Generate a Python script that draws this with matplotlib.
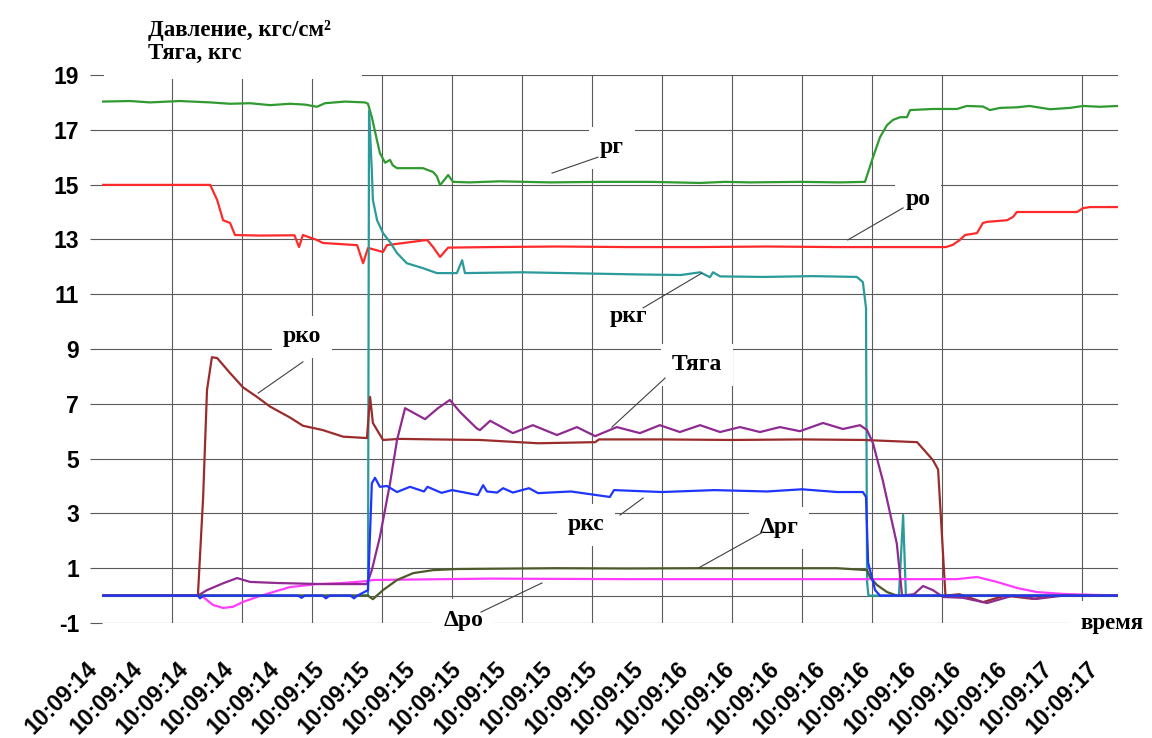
import matplotlib.pyplot as plt
import numpy as np
from matplotlib.transforms import ScaledTranslation
from matplotlib.patches import Rectangle

plt.rcParams["axes.unicode_minus"] = False

# x axis is the sample number (about 100 samples per second)
time_labels = ["10:09:14"] * 5 + ["10:09:15"] * 8 + ["10:09:16"] * 8 + ["10:09:17"] * 2
label_step = 13
grid_step = 20
x_max = 290.3

# p_г (fuel pressure)
pg_t = [0, 8, 13.7, 22.3, 30.9, 36.6, 42.3, 48, 53.7, 58, 61.4, 63.7, 69.4, 75.1, 76,
        77.1, 78.6, 79.4, 80.9, 82.3, 83.1, 84.3, 88, 91.7, 94.6, 95.7, 96.6, 98, 98.9, 100.3,
        105, 113.7, 128, 142.3, 156.6, 170.9, 178, 185, 199.4, 210.9, 218,
        220.3, 222.3, 224.3, 226, 228, 230, 230.9, 237.4, 244.3, 247.1, 251.7, 253.7, 256.6,
        261.4, 265, 270.9, 276.6, 280.3, 285.1, 290.3]
pg_v = [18.03, 18.05, 18.0, 18.05, 18.0, 17.95, 17.97, 17.9, 17.95, 17.92, 17.84, 17.97, 18.03, 18.0, 17.95,
        17.46, 16.6, 16.15, 15.8, 15.9, 15.7, 15.6, 15.6, 15.6, 15.46, 15.3, 14.98, 15.2, 15.35, 15.1,
        15.08, 15.12, 15.08, 15.1, 15.1, 15.06, 15.1, 15.08, 15.1, 15.08, 15.1,
        16.0, 16.73, 17.17, 17.36, 17.46, 17.46, 17.72, 17.76, 17.76, 17.87, 17.85, 17.72, 17.8,
        17.82, 17.87, 17.75, 17.8, 17.87, 17.84, 17.87]

# p_о (oxidizer pressure)
po_t = [0, 30.9, 32.9, 34.6, 36.6, 38, 45, 55, 56.3, 57.4, 61.4, 63.1, 72.9, 74.6, 76,
        80.3, 81.4, 92.9, 94.6, 96.6, 98.9, 110.9, 130, 150, 170, 190, 210, 230, 241.1,
        243.1, 245.1, 246.6, 250, 251.7, 252.9, 258.6, 260.3, 261.4, 278.6, 280.3, 282.3, 290.3]
po_v = [14.99, 14.99, 14.44, 13.7, 13.6, 13.16, 13.14, 13.15, 12.72, 13.16, 12.98, 12.87, 12.79, 12.13, 12.69,
        12.54, 12.79, 12.98, 12.72, 12.36, 12.7, 12.72, 12.74, 12.72, 12.72, 12.74, 12.72, 12.72, 12.72,
        12.8, 12.98, 13.16, 13.23, 13.6, 13.64, 13.7, 13.82, 14.0, 14.0, 14.14, 14.18, 14.18]

# p_кг
pkg_t = [0, 76, 76.3, 77.1, 77.4, 78.6, 80.3, 82.3, 84.3, 87.1, 91.7, 95.7, 101.4, 102.9, 103.7,
         120, 153.7, 165.4, 170.9, 173.7, 174.6, 176.6, 188.9, 203.1, 215.7, 217.4, 218.3, 218.6,
         219, 227.7, 228.9, 229.7, 290.3]
pkg_v = [0, 0, 17.7, 15.5, 14.44, 13.7, 13.23, 12.9, 12.5, 12.13, 11.95, 11.77, 11.77, 12.24, 11.77,
         11.8, 11.72, 11.7, 11.8, 11.62, 11.8, 11.65, 11.63, 11.66, 11.63, 11.44, 10.5, 0.5,
         0, 0, 2.94, 0, 0]

# p_ко
pko_t = [0, 27.4, 28.9, 30, 31.4, 32.9, 36.6, 40.3, 44.3, 48, 53.7, 57.4, 63.1, 68.9, 75.7,
         76.6, 77.4, 80.3, 85, 95, 108, 124.6, 140.9, 142, 160, 180, 200, 217.7, 232.9,
         237.4, 238.9, 241, 245, 251.7, 258, 266, 274, 290.3]
pko_v = [0, 0, 3.6, 7.5, 8.7, 8.67, 8.12, 7.6, 7.25, 6.9, 6.5, 6.2, 6.04, 5.8, 5.75,
         7.25, 6.3, 5.68, 5.72, 5.7, 5.68, 5.56, 5.6, 5.7, 5.7, 5.68, 5.7, 5.68, 5.6,
         4.95, 4.6, 0, 0.05, -0.24, 0.0, -0.12, 0.02, 0]

# Тяга (thrust)
thr_t = [0, 27.4, 30, 34.6, 38.6, 42.3, 50, 63.1, 75.7, 77.1, 79.4, 82.3, 84.3, 86.6, 88.6,
         92.3, 96, 99.4, 102.3, 107.1, 108, 110.9, 117.4, 123.1, 130, 135.7, 140.9, 147.1, 153.7,
         159.4, 165.1, 170.9, 176.6, 182.3, 188, 193.7, 199.4, 206, 211.7, 216.6, 218.6, 220.3,
         223.1, 227.1, 228.6, 232, 234.6, 237.4, 240.3, 246, 252.9, 260.3, 267, 274.6, 290.3]
thr_v = [0, 0, 0.2, 0.45, 0.64, 0.5, 0.46, 0.42, 0.42, 0.93, 2.14, 4.1, 5.68, 6.84, 6.7,
         6.44, 6.84, 7.14, 6.7, 6.1, 6.04, 6.38, 5.93, 6.22, 5.86, 6.15, 5.82, 6.15, 5.93,
         6.22, 5.97, 6.22, 5.97, 6.15, 5.97, 6.15, 6.0, 6.3, 6.08, 6.22, 6.04, 5.56,
         4.2, 1.9, 0, 0.05, 0.35, 0.2, -0.05, -0.08, -0.27, 0, -0.12, 0, 0]

# p_кс (chamber pressure)
pks_t = [0, 27.4, 28, 29, 56, 57, 58, 63, 64, 65, 71, 72, 73, 76, 77.1, 78, 79.4, 81.4, 84.3,
         88, 92, 93, 97, 100, 107.4, 108.9, 110, 112.9, 114.6, 117.4, 122, 124.6, 134, 145.1,
         146.3, 160, 175, 190, 200, 210, 217.4, 218.3, 218.9, 220.9, 222.3, 290.3]
pks_v = [0, 0, -0.1, 0, 0, -0.08, 0, 0, -0.1, 0, 0, -0.1, 0, 0.2, 4.1, 4.3, 3.97, 4.0, 3.78,
         3.97, 3.8, 3.97, 3.75, 3.85, 3.67, 4.03, 3.8, 3.76, 3.92, 3.76, 3.92, 3.74, 3.8, 3.6,
         3.85, 3.78, 3.85, 3.8, 3.88, 3.78, 3.78, 3.6, 1.2, 0.2, 0, 0]

# Δp_г
dpg_t = [0, 76, 77.4, 80.3, 84.3, 88.9, 94.6, 101.4, 110, 130, 150, 170, 190, 210, 218.6,
         219.4, 221.4, 224.3, 227.1, 290.3]
dpg_v = [0, 0, -0.13, 0.2, 0.57, 0.82, 0.93, 0.97, 0.98, 1.0, 0.99, 1.0, 1.0, 1.0, 0.93,
         0.68, 0.39, 0.13, 0, 0]

# Δp_о
dpo_t = [0, 27.4, 28.9, 31.7, 34.6, 37.4, 40.3, 44.3, 48.9, 53.7, 61.4, 68.9, 75.7, 77.4,
         110.9, 150, 200, 244.3, 250, 255.7, 261.4, 267.1, 274.6, 290.3]
dpo_v = [0, 0, -0.05, -0.34, -0.45, -0.41, -0.23, -0.05, 0.13, 0.31, 0.42, 0.46, 0.53, 0.57,
         0.62, 0.6, 0.6, 0.6, 0.68, 0.5, 0.28, 0.13, 0.06, 0]

serif = "Liberation Serif"
sans = "Liberation Sans"
grid_color = "#5a5a5a"

fig = plt.figure(figsize=(11.52, 7.38), dpi=100)
ax = fig.add_axes([102 / 1152, 115 / 738, 1016 / 1152, 548 / 738])

ax.plot(pg_t, pg_v, color="#2f9a2f", lw=1.6)
ax.plot(po_t, po_v, color="#ff2a2a", lw=1.6)
ax.plot(pkg_t, pkg_v, color="#2a9a9a", lw=1.6)
ax.plot(pko_t, pko_v, color="#9a2c2c", lw=1.6)
ax.plot(dpo_t, dpo_v, color="#ff3cff", lw=1.6)
ax.plot(thr_t, thr_v, color="#8e2a90", lw=1.6)
ax.plot(dpg_t, dpg_v, color="#4c5a2a", lw=1.6)
ax.plot(pks_t, pks_v, color="#1f35ff", lw=1.6)

ax.set_xlim(0, x_max)
ax.set_ylim(-1, 19)
ax.set_yticks(np.arange(-1, 20, 2))
ax.set_xticks(np.arange(len(time_labels)) * label_step)
ax.set_xticks(np.arange(0, x_max, grid_step), minor=True)
ax.tick_params(axis="x", which="both", length=0, pad=25)
ax.tick_params(axis="y", direction="out", length=8.5, width=0.8, color=grid_color, pad=8)
ax.set_xticklabels(time_labels, rotation=45, ha="right", va="top",
                   rotation_mode="anchor", fontsize=16.5, fontweight="bold", family=sans)
for lab in ax.get_yticklabels():
    lab.set_fontsize(16.5)
    lab.set_fontweight("bold")
    lab.set_family(sans)
# move the slanted time labels a little to the left of their ticks
shift = ScaledTranslation(-12 / 72, 0, fig.dpi_scale_trans)
for lab in ax.get_xticklabels():
    lab.set_transform(lab.get_transform() + shift)

ax.grid(True, axis="y", which="major", color=grid_color, lw=0.8)
ax.grid(True, axis="x", which="minor", color=grid_color, lw=0.8)
ax.set_axisbelow(True)
ax.axhline(0, color=grid_color, lw=0.8, zorder=0.6)
for s in ax.spines.values():
    s.set_visible(False)

# gap in the top grid line under the axis title
ax.add_patch(Rectangle((0.002, 0.992), 0.254, 0.02, transform=ax.transAxes,
                       fc="white", ec="none", zorder=1, clip_on=False))

fig.text(148 / 1152, 1 - 20 / 738, "Давление, кгс/см²\nТяга, кгс", ha="left", va="top",
         fontsize=16.5, fontweight="bold", family=serif, linespacing=1.15)

# curve labels: text, text position, leader start, leader end
labels = [
    ("pг", (145.7, 16.34), (141.7, 16.0), (128.6, 15.42)),
    ("pо", (233.1, 14.44), (228.9, 14.15), (213.1, 12.98)),
    ("pкг", (150.3, 10.17), (154.6, 10.5), (171.4, 11.77)),
    ("pко", (57.1, 9.44), (57.4, 8.53), (44.6, 7.39)),
    ("Тяга", (170, 8.42), (160.9, 7.94), (145.7, 6.15)),
    ("pкс", (138.3, 2.58), (148, 2.94), (154.6, 3.56)),
    ("Δpг", (193.4, 2.47), (188.9, 2.32), (170.3, 1.0)),
    ("Δpо", (103.4, -0.9), (108.3, -0.6), (125.7, 0.46)),
]
for txt, pos, a, b in labels:
    ax.text(pos[0], pos[1], txt, ha="center", va="center", fontsize=17, fontweight="bold",
            family=serif, zorder=3,
            bbox=dict(boxstyle="square,pad=0.45", fc="white", ec="none"))
    ax.plot([a[0], b[0]], [a[1], b[1]], color="#404040", lw=0.8, zorder=4)

ax.text(288.6, -1.0, "время", ha="center", va="center", fontsize=16.5, fontweight="bold",
        family=serif, zorder=3, clip_on=False,
        bbox=dict(boxstyle="square,pad=0.5", fc="white", ec="none"))

plt.savefig("out.png", dpi=100)
